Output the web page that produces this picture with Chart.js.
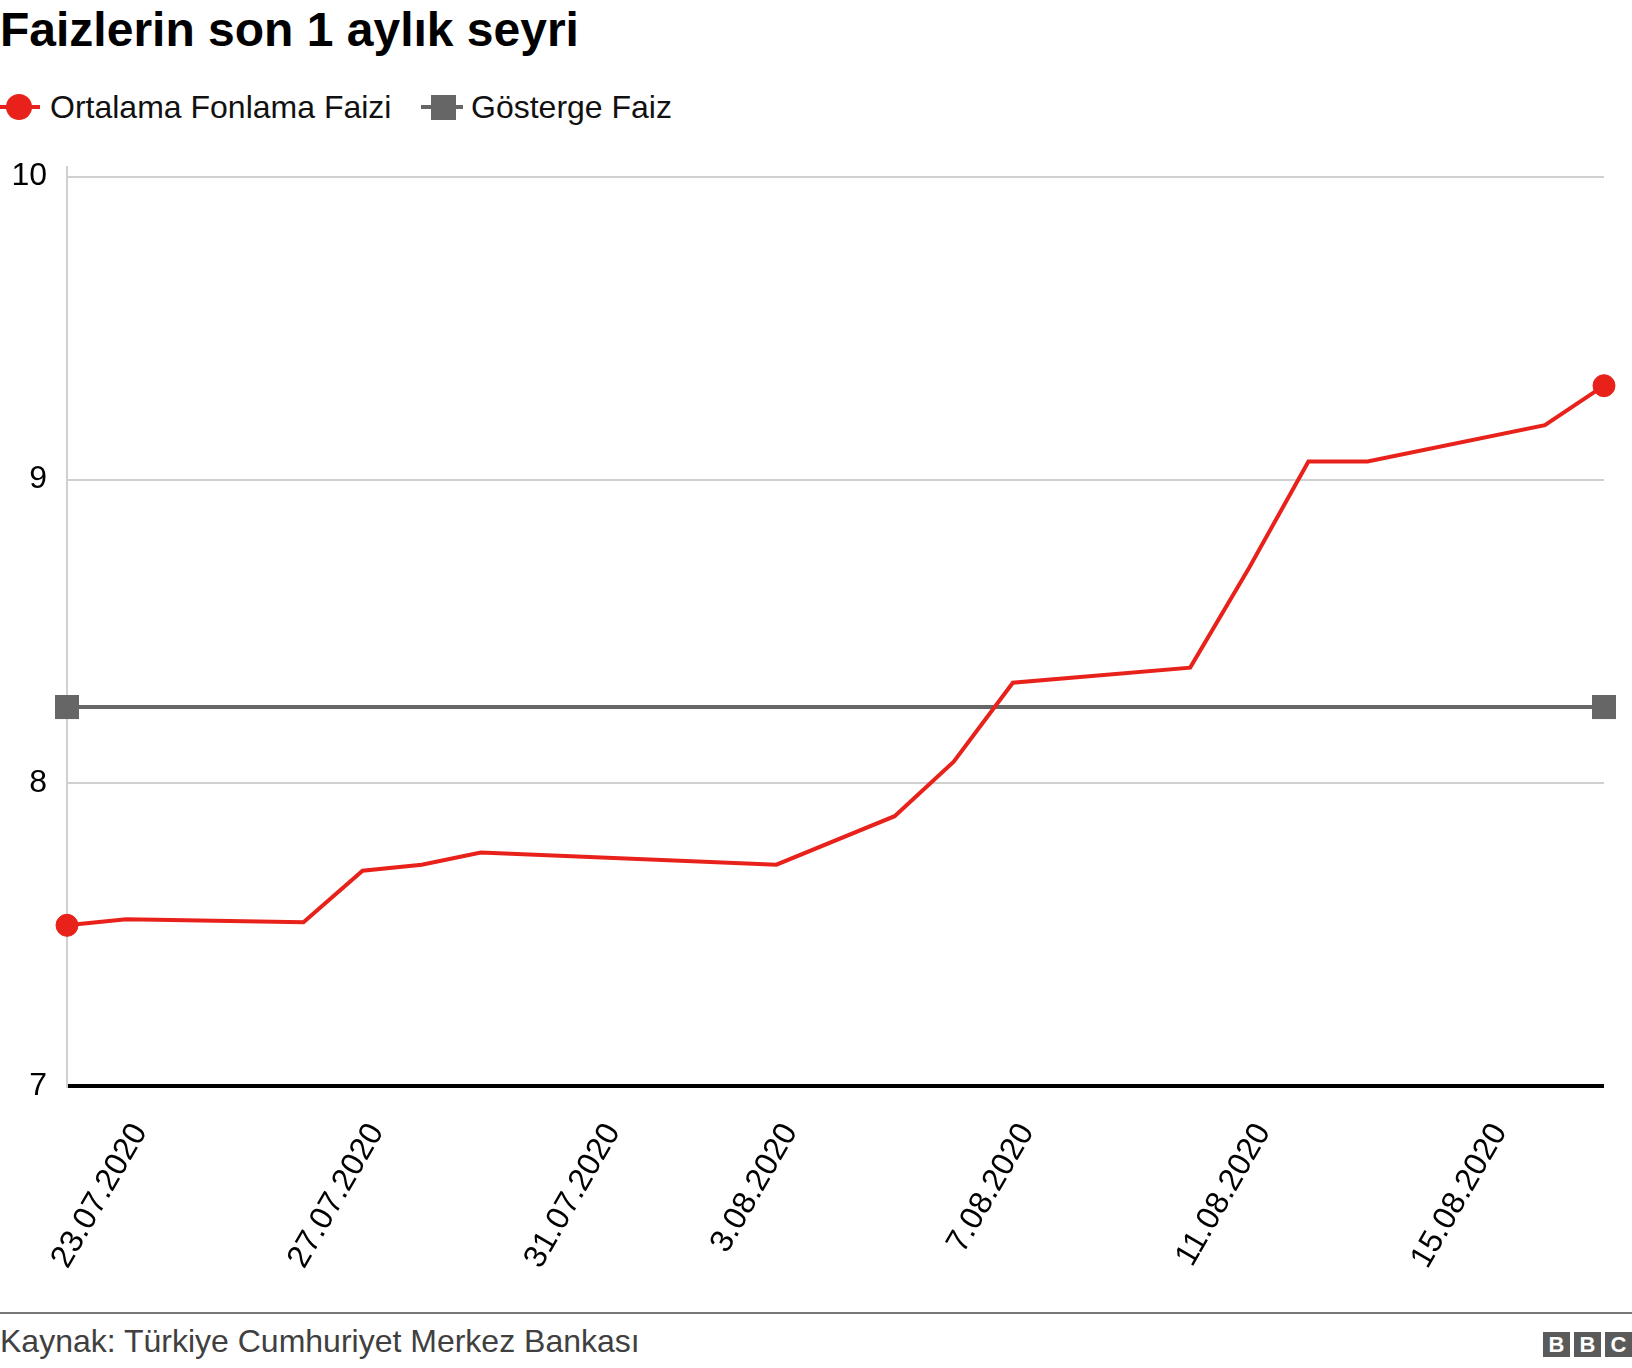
<!DOCTYPE html>
<html>
<head>
<meta charset="utf-8">
<script src="https://cdn.jsdelivr.net/npm/chart.js@4.4.1/dist/chart.umd.min.js"></script>
<style>
html,body{margin:0;padding:0;background:#fff;}
body{width:1632px;height:1368px;position:relative;overflow:hidden;font-family:'Liberation Sans',Arial,sans-serif;}
#title{position:absolute;left:0;top:6px;font-size:48px;line-height:48px;font-weight:bold;color:#000;white-space:nowrap;}
.leg{position:absolute;top:91px;font-size:32px;line-height:32px;color:#111;white-space:nowrap;}
.mk{position:absolute;}
#chartWrap{position:absolute;left:0;top:130px;width:1632px;height:1170px;}
#rule{position:absolute;left:0;top:1312px;width:1632px;height:2px;background:#777;}
#source{position:absolute;left:0;top:1325px;font-size:32px;line-height:32px;color:#404040;white-space:nowrap;}
#bbc{position:absolute;right:0;top:1332px;display:flex;gap:4px;}
#bbc span{display:block;width:27px;height:25px;background:#5a5a5a;color:#fff;font-weight:bold;font-size:22px;line-height:25px;text-align:center;}
</style>
</head>
<body>
<div id="title">Faizlerin son 1 aylık seyri</div>

<div class="mk" style="left:0;top:105px;width:40px;height:4px;background:#e8211a;"></div>
<div class="mk" style="left:6px;top:94px;width:26px;height:26px;border-radius:50%;background:#e8211a;"></div>
<div class="leg" style="left:50px;">Ortalama Fonlama Faizi</div>

<div class="mk" style="left:421px;top:105px;width:42px;height:4px;background:#666;"></div>
<div class="mk" style="left:431px;top:95px;width:25px;height:25px;background:#666;"></div>
<div class="leg" style="left:471px;">Gösterge Faiz</div>

<div id="chartWrap"><canvas id="c" width="1632" height="1170"></canvas></div>

<div id="rule"></div>
<div id="source">Kaynak: Türkiye Cumhuriyet Merkez Bankası</div>
<div id="bbc"><span>B</span><span>B</span><span>C</span></div>

<script>
const categories = ['23.07.2020','24.07.2020','25.07.2020','26.07.2020','27.07.2020','28.07.2020','29.07.2020','30.07.2020','31.07.2020',
  '1.08.2020','2.08.2020','3.08.2020','4.08.2020','5.08.2020','6.08.2020','7.08.2020','8.08.2020','9.08.2020','10.08.2020',
  '11.08.2020','12.08.2020','13.08.2020','14.08.2020','15.08.2020','16.08.2020','17.08.2020','18.08.2020'];
const tickLabels = ['23.07.2020','27.07.2020','31.07.2020','3.08.2020','7.08.2020','11.08.2020','15.08.2020'];
const yTicks = [7, 8, 9, 10];
const ortalamaFonlama = [7.53, 7.55, null, null, 7.54, 7.71, 7.73, 7.77, null,
  null, null, null, 7.73, null, 7.89, 8.07, 8.33, null, null,
  8.38, 8.71, 9.06, 9.06, null, null, 9.18, 9.31];
const gostergeFaiz = [8.25, 8.25, null, null, 8.25, 8.25, 8.25, 8.25, null,
  null, null, null, 8.25, null, 8.25, 8.25, 8.25, null, null,
  8.25, 8.25, 8.25, 8.25, null, null, 8.25, 8.25];

Chart.defaults.font.family = "'Liberation Sans', Arial, sans-serif";
const lastIdx = categories.length - 1;
const endPoint = (r) => (ctx) => (ctx.dataIndex === 0 || ctx.dataIndex === lastIdx) ? r : 0;

new Chart(document.getElementById('c'), {
  type: 'line',
  data: {
    labels: categories,
    datasets: [
      {
        label: 'Ortalama Fonlama Faizi',
        data: ortalamaFonlama,
        borderColor: '#e8211a',
        backgroundColor: '#e8211a',
        borderWidth: 4,
        pointRadius: endPoint(11),
        pointBorderWidth: 1,
        pointStyle: 'circle',
        spanGaps: true,
        tension: 0,
        clip: false,
        order: 0
      },
      {
        label: 'Gösterge Faiz',
        data: gostergeFaiz,
        borderColor: '#666666',
        backgroundColor: '#666666',
        borderWidth: 4,
        pointRadius: endPoint(17),
        pointBorderWidth: 0,
        pointStyle: 'rect',
        spanGaps: true,
        tension: 0,
        clip: false,
        order: 1
      }
    ]
  },
  options: {
    responsive: false,
    animation: false,
    devicePixelRatio: 1,
    layout: { autoPadding: false, padding: { top: 36.5, right: 28, left: 0, bottom: 0 } },
    plugins: { legend: { display: false }, title: { display: false }, tooltip: { enabled: false } },
    scales: {
      x: {
        type: 'category',
        offset: false,
        grid: { display: false, drawTicks: false },
        border: { display: false },
        ticks: {
          autoSkip: false,
          minRotation: 60,
          maxRotation: 60,
          padding: 31,
          labelOffset: 73,
          color: '#000',
          font: { size: 32 },
          callback: function (v, i) { const l = categories[i]; return tickLabels.includes(l) ? l : ''; }
        },
        afterFit: function (s) { s.height = 214; s.paddingLeft = 0; s.paddingRight = 0; }
      },
      y: {
        min: 7,
        max: 10.033,
        afterBuildTicks: function (s) { s.ticks = yTicks.map(v => ({ value: v })); },
        ticks: { padding: 20, color: '#000', font: { size: 32 } },
        grid: {
          drawTicks: false,
          color: (ctx) => ctx.tick && ctx.tick.value === 7 ? '#000' : '#d0d0d0',
          lineWidth: (ctx) => ctx.tick && ctx.tick.value === 7 ? 4 : 2
        },
        border: { color: '#d0d0d0', width: 2 },
        afterFit: function (s) { s.width = 67; s.paddingTop = 0; s.paddingBottom = 0; }
      }
    }
  }
});
</script>
</body>
</html>
